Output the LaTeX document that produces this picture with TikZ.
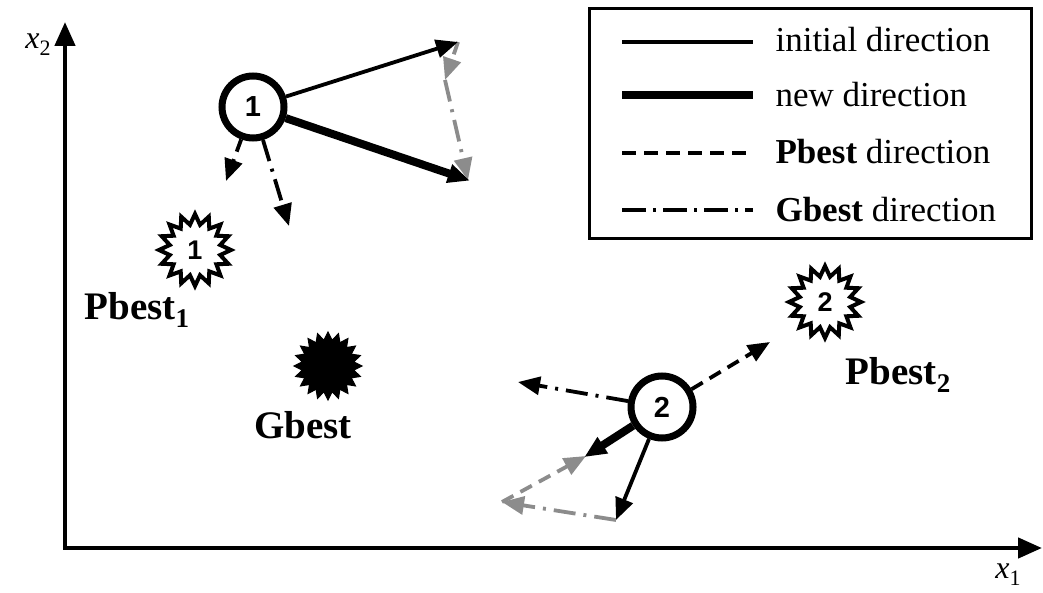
\documentclass[tikz,border=0pt]{standalone}
\usepackage{fontspec}
\setmainfont{Liberation Serif}
\newfontfamily\arialf{Liberation Sans}
\usetikzlibrary{arrows.meta,shapes.geometric}
\begin{document}
\begin{tikzpicture}[x=1pt,y=-1pt,
  tip/.style={-{Triangle[length=22pt,width=18pt]}},
  initdir/.style={tip,line width=3.8pt},
  newdir/.style={tip,line width=8pt,shorten >=-2pt},
  pdir/.style={tip,line width=3.8pt,dash pattern=on 13pt off 8pt},
  gdir/.style={tip,line width=3.8pt,dash pattern=on 22pt off 8pt on 3pt off 8pt},
  grey/.style={draw=gray!90,color=gray!90},
  particle/.style={circle,draw,line width=7pt,minimum size=62pt,inner sep=0pt,font=\arialf\bfseries\fontsize{29}{29}\selectfont},
  pstar/.style={star,star points=16,star point ratio=1.4,draw,line width=4pt,minimum size=72pt,inner sep=0pt,font=\arialf\bfseries\fontsize{27}{27}\selectfont},
  gstar/.style={star,star points=20,star point ratio=1.3,draw,fill=black,line width=1pt,minimum size=68pt,inner sep=0pt},
  lbl/.style={font=\bfseries\fontsize{39}{44}\selectfont},
  legtxt/.style={font=\fontsize{35}{40}\selectfont,anchor=west},
  legline/.style={line width=3.8pt}
]
\useasboundingbox (0,0) rectangle (1043,593);
% axes
\coordinate (O) at (65,548);
\coordinate (Y) at (65,22);
\coordinate (X) at (1042,548);
\draw[line width=4.5pt,-{Triangle[length=24pt,width=20pt]}] (O) -- (Y);
\draw[line width=4.5pt,-{Triangle[length=24pt,width=20pt]}] ([xshift=-2.25pt]O) -- (X);
\node (x2) at (38,45) {\fontsize{32}{32}\selectfont\textit{x}\raisebox{-7pt}{\fontsize{22}{22}\selectfont 2}};
\node (x1) at (1008,575) {\fontsize{32}{32}\selectfont\textit{x}\raisebox{-7pt}{\fontsize{22}{22}\selectfont 1}};
% legend
\node[draw,line width=3.2pt,minimum width=442pt,minimum height=230pt,anchor=north west,inner sep=0pt] (leg) at (588,7) {};
\coordinate (l1a) at (622,42); \coordinate (l1b) at (753,42);
\coordinate (l2a) at (622,95); \coordinate (l2b) at (753,95);
\coordinate (l3a) at (622,153); \coordinate (l3b) at (753,153);
\coordinate (l4a) at (622,210); \coordinate (l4b) at (753,210);
\draw[legline] (l1a) -- (l1b);
\draw[line width=8pt] (l2a) -- (l2b);
\draw[legline,dash pattern=on 14pt off 8pt] (l3a) -- (l3b);
\draw[legline,dash pattern=on 24pt off 7pt on 3pt off 7pt] (l4a) -- (l4b);
\node[legtxt] (t1) at (772,40) {initial direction};
\node[legtxt] (t2) at (772,95) {new direction};
\node[legtxt] (t3) at (772,152) {\textbf{Pbest} direction};
\node[legtxt] (t4) at (772,210) {\textbf{Gbest} direction};
% stars
\node[pstar] (pb1) at (195,250) {1};
\node[lbl] (pb1l) at (137,310) {Pbest\raisebox{-8pt}{\fontsize{27}{27}\selectfont 1}};
\node[gstar] (gb) at (328,366) {};
\node[lbl] (gbl) at (303,425) {Gbest};
\node[pstar] (pb2) at (825,302) {2};
\node[lbl] (pb2l) at (898,375) {Pbest\raisebox{-8pt}{\fontsize{27}{27}\selectfont 2}};
% particle 1
\node[particle] (p1) at (253,107) {1};
\coordinate (a1) at (458,42);
\coordinate (b1) at (468,180);
\coordinate (c1) at (445,80);
\coordinate (d1) at (226,181);
\coordinate (e1) at (289,226);
\draw[grey,pdir] (a1) -- (c1);
\draw[grey,gdir] (c1) -- (b1);
\draw[initdir] (p1) -- (a1);
\draw[newdir] (p1) -- (b1);
\draw[pdir] (p1) -- (d1);
\draw[gdir] (p1) -- (e1);
% particle 2
\node[particle] (p2) at (662,407) {2};
\coordinate (a2) at (616,520);
\coordinate (b2) at (586,456);
\coordinate (c2) at (502,502);
\coordinate (d2) at (770,342);
\coordinate (e2) at (518,382);
\draw[grey,gdir] (a2) -- (c2);
\draw[grey,pdir] (c2) -- (b2);
\draw[initdir] (p2) -- (a2);
\draw[newdir] (p2) -- (b2);
\draw[pdir] (p2) -- (d2);
\draw[gdir] (p2) -- (e2);
\end{tikzpicture}
\end{document}
